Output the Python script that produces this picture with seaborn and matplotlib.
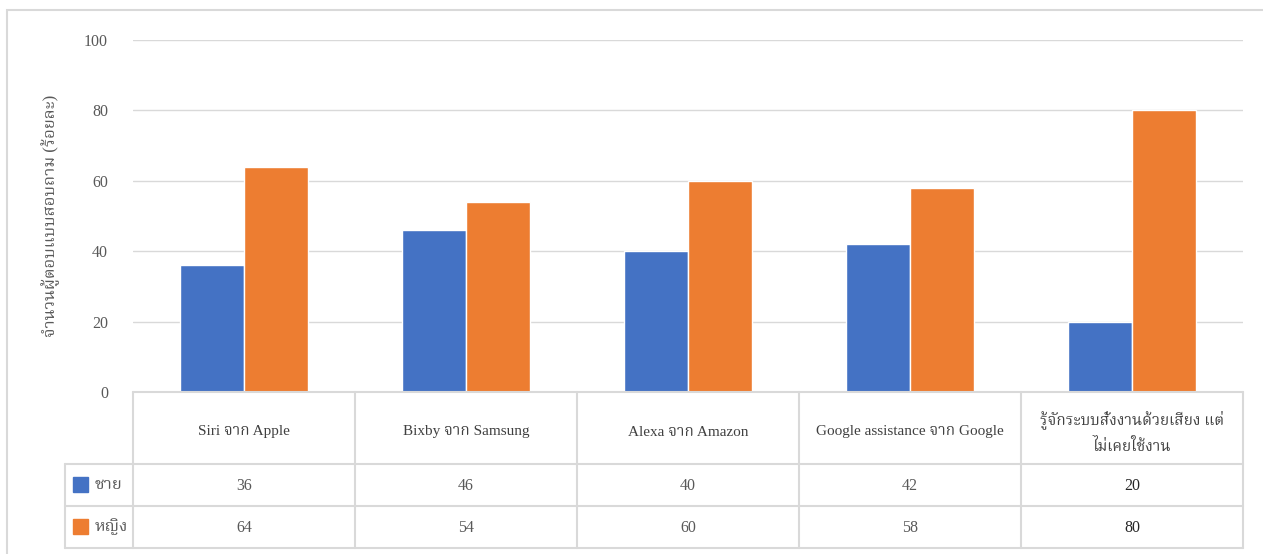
import matplotlib
matplotlib.use("Agg")
import matplotlib.pyplot as plt
import matplotlib.transforms as mtransforms
from matplotlib.patches import Rectangle
from matplotlib import font_manager as fm
import seaborn as sns
import pandas as pd

categories = ["Siri จาก Apple", "Bixby จาก Samsung", "Alexa จาก Amazon",
              "Google assistance จาก Google", "รู้จักระบบสั่งงานด้วยเสียง แต่\nไม่เคยใช้งาน"]
series_names = ["ชาย", "หญิง"]
male = [36, 46, 40, 42, 20]
female = [64, 54, 60, 58, 80]
yticks = [0, 20, 40, 60, 80, 100]
ylabel = "จำนวนผู้ตอบแบบสอบถาม (ร้อยละ)"
colors = ["#4472C4", "#ED7D31"]

sns.set_theme(style="white")
available = {f.name for f in fm.fontManager.ttflist}
thai_candidates = ["Noto Serif Thai", "Taviraj", "Trirong", "Sarabun", "Noto Sans Thai", "Athiti"]
fams = ["Liberation Serif"] + [f for f in thai_candidates if f in available] + ["DejaVu Sans"]
plt.rcParams['font.family'] = fams

df = pd.DataFrame({
    "cat": categories * 2,
    "val": male + female,
    "series": [series_names[0]] * len(categories) + [series_names[1]] * len(categories),
})

W, H = 1263, 554
fig = plt.figure(figsize=(W / 100, H / 100), dpi=100)
ax = fig.add_axes([133 / W, 1 - 392 / H, (1243 - 133) / W, (392 - 40) / H])

sns.barplot(data=df, x="cat", y="val", hue="series", palette=colors,
            width=0.577, gap=0, saturation=1, ax=ax, legend=False, errorbar=None)

grid_c = "#D9D9D9"
text_c = "#595959"
ax.set_ylim(0, 100)
ax.set_xlim(-0.5, len(categories) - 0.5)
ax.set_yticks(yticks)
ax.set_yticklabels([str(t) for t in yticks], fontsize=11.5, color=text_c)
ax.tick_params(axis="y", length=0, pad=18)
ax.set_xticks([])
ax.set_xlabel("")
ax.set_ylabel(ylabel, fontsize=12, color=text_c)
ax.yaxis.set_label_coords(-(133 - 60) / (1243 - 133), 0.5)
for s in ax.spines.values():
    s.set_visible(False)
ax.grid(axis="y", color=grid_c, lw=1)
ax.set_axisbelow(True)

# data table below the plot
ax_h = 392 - 40
tr = mtransforms.blended_transform_factory(ax.transData, ax.transAxes)
y_top = 0
y_h = -72 / ax_h
y_r1 = -114 / ax_h
y_r2 = -156 / ax_h
x_left = -0.5 - 68 / 222
n = len(categories)
lkw = dict(color=grid_c, lw=1.5, transform=tr, clip_on=False)
ax.plot([-0.5, n - 0.5], [y_top, y_top], **lkw)
for yy in (y_h, y_r1, y_r2):
    ax.plot([x_left, n - 0.5], [yy, yy], **lkw)
for i in range(n + 1):
    ax.plot([i - 0.5, i - 0.5], [y_top, y_r2], **lkw)
ax.plot([x_left, x_left], [y_h, y_r2], **lkw)

for i, c in enumerate(categories):
    ax.text(i, (y_top + y_h) / 2 - 4 / ax_h, c, transform=tr, ha="center", va="center",
            fontsize=11, color="#404040", linespacing=1.75, clip_on=False)
for vals, yy0, yy1 in ((male, y_h, y_r1), (female, y_r1, y_r2)):
    for i, v in enumerate(vals):
        ax.text(i, (yy0 + yy1) / 2 - 1 / ax_h, str(v), transform=tr, ha="center", va="center",
                fontsize=11.5, color=text_c if i < n - 1 else "#262626", clip_on=False)

# legend keys in the table's first column
for name, col, yy0, yy1 in ((series_names[0], colors[0], y_h, y_r1),
                            (series_names[1], colors[1], y_r1, y_r2)):
    ym_px = 392 - (yy0 + yy1) / 2 * ax_h
    fig.patches.append(Rectangle((73 / W, 1 - (ym_px + 7) / H), 15 / W, 15 / H,
                                 transform=fig.transFigure, color=col))
    fig.text(95 / W, 1 - ym_px / H, name, ha="left", va="center",
             fontsize=12, color=text_c)

# outer border
fig.patches.append(Rectangle((7 / W, -0.1), (1262 - 7) / W + 0.1, 1 - 10 / H + 0.1,
                             transform=fig.transFigure, fill=False,
                             edgecolor=grid_c, lw=1.5))

fig.savefig("out.png", dpi=100)
